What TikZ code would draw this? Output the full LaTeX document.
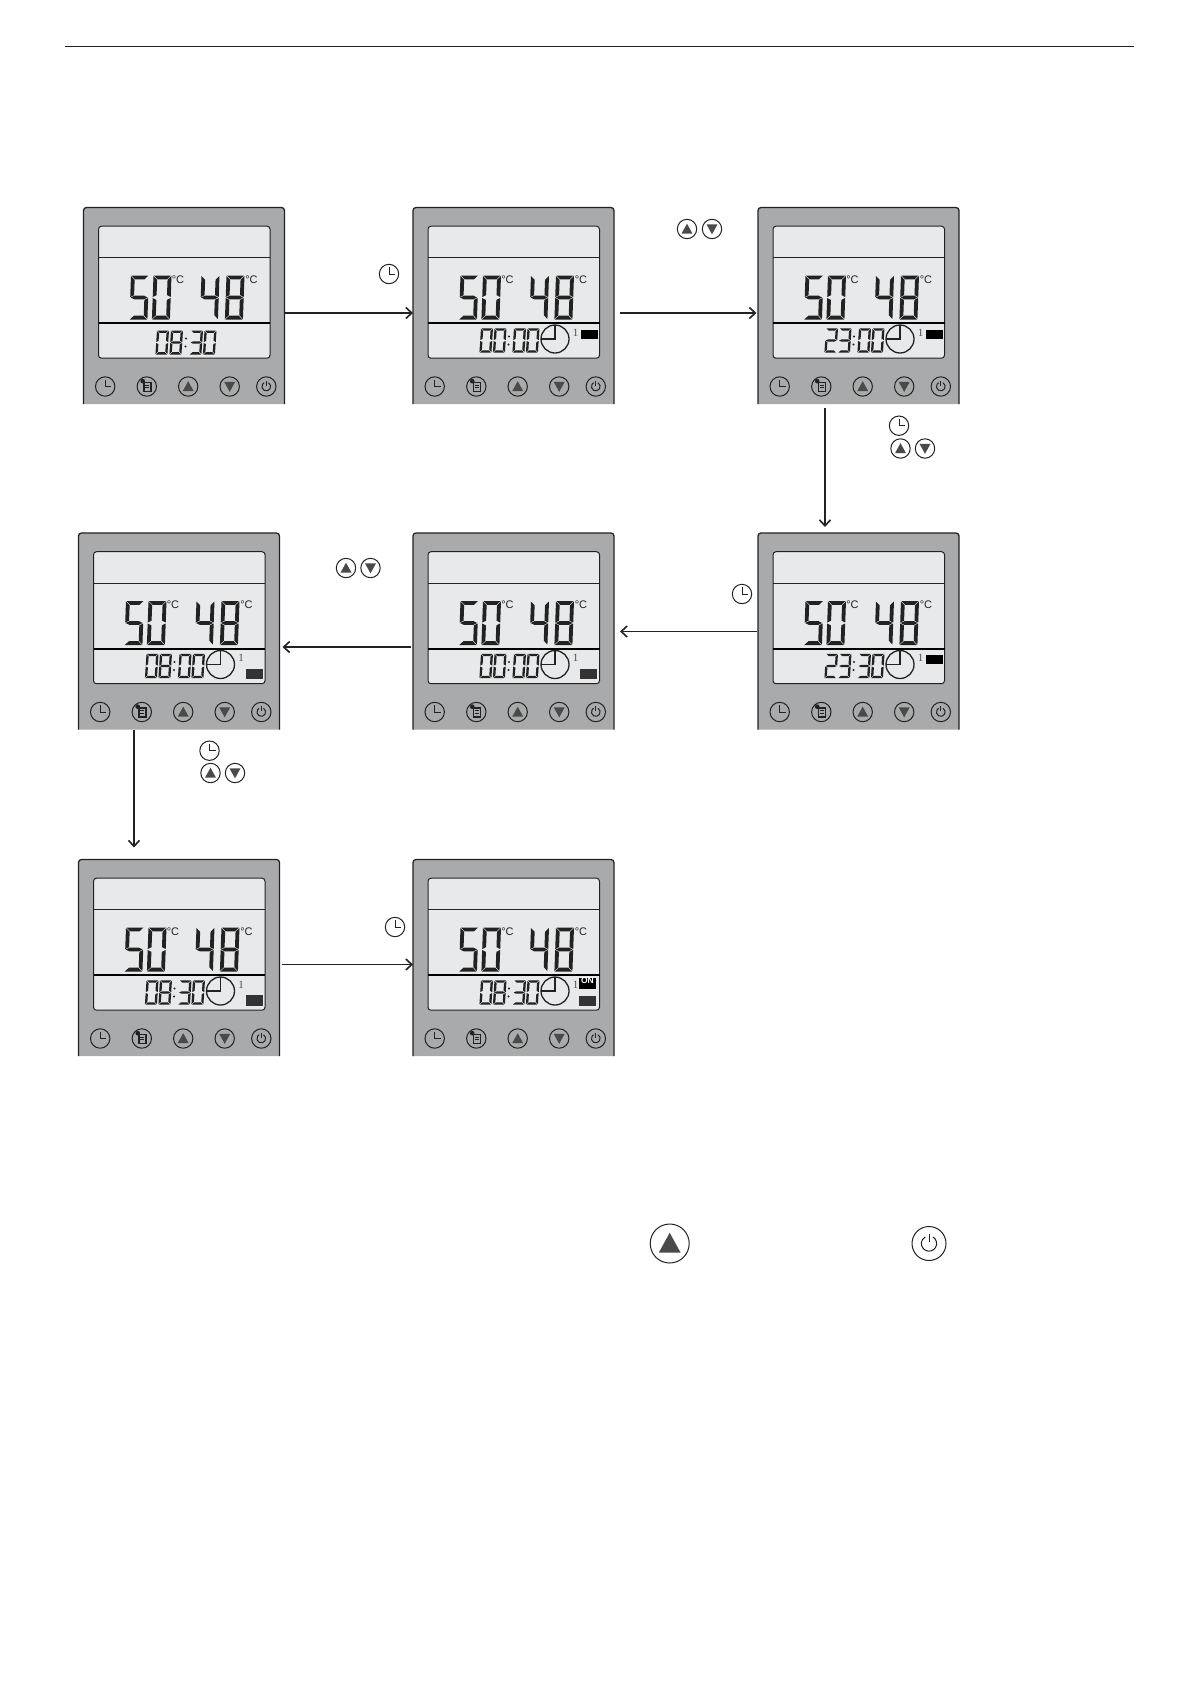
\documentclass[tikz,border=0pt]{standalone}
\usepackage{fontspec}
\setmainfont{Liberation Sans}
\newfontfamily\thinserif{Liberation Serif}
\usetikzlibrary{arrows.meta}
\definecolor{panelgrey}{HTML}{A9AAAC}
\definecolor{screengrey}{HTML}{E8E9EA}
\definecolor{inkdark}{HTML}{222222}
\definecolor{boxdark}{HTML}{333333}
\definecolor{iconfill}{HTML}{4A4A48}
\tikzset{
  panelnode/.style={rectangle,draw=none,inner sep=0pt,outer sep=0pt,minimum width=201pt,minimum height=196pt,anchor=north west},
  panelrim/.style={draw=inkdark,line width=1.3pt,rounded corners=3pt},
  screenrim/.style={draw=inkdark,line width=1pt,fill=screengrey,rounded corners=3pt},
  flow/.style={draw=inkdark,line width=1.6pt,-{Straight Barb[length=6pt,width=11pt,line width=1.6pt]}},
  iconline/.style={draw=inkdark,line width=1pt},
  unitlabel/.style={inner sep=0pt,font=\fontsize{11}{11}\selectfont,text=inkdark},
}
\newcommand\lsega{\fill[inkdark] (\gx,0) -- (1-\gx,0) -- (1-\gx-\tx,\ty) -- (\gx+\tx,\ty) -- cycle;}
\newcommand\lsegb{\fill[inkdark] (1,\gy) -- (1,.5-\gy) -- (1-\tx,.5-\gy-.5*\ty) -- (1-\tx,\gy+\ty) -- cycle;}
\newcommand\lsegc{\fill[inkdark] (1,.5+\gy) -- (1,1-\gy) -- (1-\tx,1-\gy-\ty) -- (1-\tx,.5+\gy+.5*\ty) -- cycle;}
\newcommand\lsegd{\fill[inkdark] (\gx,1) -- (1-\gx,1) -- (1-\gx-\tx,1-\ty) -- (\gx+\tx,1-\ty) -- cycle;}
\newcommand\lsege{\fill[inkdark] (0,.5+\gy) -- (0,1-\gy) -- (\tx,1-\gy-\ty) -- (\tx,.5+\gy+.5*\ty) -- cycle;}
\newcommand\lsegf{\fill[inkdark] (0,\gy) -- (0,.5-\gy) -- (\tx,.5-\gy-.5*\ty) -- (\tx,\gy+\ty) -- cycle;}
\newcommand\lsegg{\fill[inkdark] (\gx,.5) -- (\gx+\tx,.5-.5*\ty) -- (1-\gx-\tx,.5-.5*\ty) -- (1-\gx,.5) -- (1-\gx-\tx,.5+.5*\ty) -- (\gx+\tx,.5+.5*\ty) -- cycle;}
\expandafter\def\csname dgt0\endcsname{a,b,c,d,e,f}
\expandafter\def\csname dgt2\endcsname{a,b,g,e,d}
\expandafter\def\csname dgt3\endcsname{a,b,g,c,d}
\expandafter\def\csname dgt4\endcsname{f,g,b,c}
\expandafter\def\csname dgt5\endcsname{a,f,g,c,d}
\expandafter\def\csname dgt8\endcsname{a,b,c,d,e,f,g}
\newcommand\segdigit[6]{%
  \begin{scope}[shift={(#1,#2)},x={(#3pt,0pt)},y={(-1.6pt,-#4pt)}]
    \pgfmathsetmacro\tx{#5/#3}\pgfmathsetmacro\ty{#5/#4}
    \pgfmathsetmacro\gx{.5/#3}\pgfmathsetmacro\gy{.5/#4}
    \edef\seglist{\csname dgt#6\endcsname}
    \foreach \s in \seglist {\csname lseg\s\endcsname}
  \end{scope}}
\newcommand\iconring[3]{\draw[iconline] (#1,#2) circle[radius=#3];}
\newcommand\iconclock[3]{\iconring{#1}{#2}{#3}
  \begin{scope}[shift={(#1,#2)},x=#3pt,y=-#3pt]\draw[iconline] (0,-.72) -- (0,0) -- (.62,0);\end{scope}}
\newcommand\iconup[3]{\iconring{#1}{#2}{#3}
  \begin{scope}[shift={(#1,#2)},x=#3pt,y=-#3pt]\fill[iconfill] (0,-.55) -- (.56,.47) -- (-.56,.47) -- cycle;\end{scope}}
\newcommand\icondown[3]{\iconring{#1}{#2}{#3}
  \begin{scope}[shift={(#1,#2)},x=#3pt,y=-#3pt]\fill[iconfill] (0,.55) -- (.56,-.47) -- (-.56,-.47) -- cycle;\end{scope}}
\newcommand\iconmenu[3]{\iconring{#1}{#2}{#3}
  \begin{scope}[shift={(#1,#2)},x=#3pt,y=-#3pt]
    \draw[line width=1.5pt,draw=inkdark] (-.3,-.42) rectangle (.42,.5);
    \draw[line width=.9pt,draw=inkdark] (-.15,-.14) -- (.27,-.14) (-.15,.1) -- (.27,.1);
    \fill[inkdark] (-.42,-.55) circle[radius=.24];
  \end{scope}}
\newcommand\iconpower[3]{\iconring{#1}{#2}{#3}
  \begin{scope}[shift={(#1,#2)},x=#3pt,y=-#3pt]
    \draw[iconline] (300:.45) arc[start angle=300,end angle=600,radius=.45];
    \draw[iconline] (0,-.58) -- (0,-.08);
  \end{scope}}
\newcommand\lcdpanel[8]{%
  \node[panelnode] (#1) at (#2,#3) {};
  \begin{scope}[shift={(#2,#3)}]
    \fill[panelgrey] (0,196.5) -- (0,3) -- (3,0) -- (198,0) -- (201,3) -- (201,196.5) -- cycle;
    \draw[panelrim] (0,196.5) -- (0,0) -- (201,0) -- (201,196.5);
    \draw[screenrim] (15,18.7) rectangle (186.5,150.7);
    \draw[draw=inkdark,line width=.9pt] (15,50) -- (186.5,50);
    \draw[draw=black,line width=1.8pt] (15,115.7) -- (186.5,115.7);
    \segdigit{47.5}{68}{18}{44}{3.8}{5}
    \segdigit{70}{68}{18}{44}{3.8}{0}
    \segdigit{118}{68}{18}{44}{3.8}{4}
    \segdigit{143}{68}{18}{44}{3.8}{8}
    \node[unitlabel] (#1-ca) at (94.5,72) {°C};
    \node[unitlabel] (#1-cb) at (168,72) {°C};
    \ifnum#8=0
      \segdigit{73.5}{123}{12}{24}{2.3}{#4}
      \segdigit{87.5}{123}{12}{24}{2.3}{#5}
      \fill[inkdark] (102.5,131) circle[radius=1.2] (102,139) circle[radius=1.2];
      \segdigit{107.5}{123}{12}{24}{2.3}{#6}
      \segdigit{121}{123}{12}{24}{2.3}{#7}
    \else
      \segdigit{68}{120.8}{12}{24.4}{2.3}{#4}
      \segdigit{81.5}{120.8}{12}{24.4}{2.3}{#5}
      \fill[inkdark] (96,129) circle[radius=1.2] (95.5,137) circle[radius=1.2];
      \segdigit{101}{120.8}{12}{24.4}{2.3}{#6}
      \segdigit{114.5}{120.8}{12}{24.4}{2.3}{#7}
      \draw[draw=inkdark,line width=1.3pt] (142,131.5) circle[radius=14];
      \draw[draw=inkdark,line width=1.1pt] (142,117.5) -- (142,131.5) -- (128,131.5);
      \node[inner sep=0pt,font=\thinserif\fontsize{11}{11}\selectfont,text=inkdark!80] (#1-one) at (162.5,125) {1};
    \fi
    \ifnum#8=1 \fill[black] (168,122) rectangle (185,131); \fi
    \ifnum#8=2 \fill[boxdark] (167,135.5) rectangle (184,146); \fi
    \ifnum#8=3
      \fill[black] (166,118.5) rectangle (183,129.5);
      \node[inner sep=0pt,font=\bfseries\fontsize{8.5}{8.5}\selectfont,text=white] (#1-on) at (174.5,121.5) {ON};
      \fill[boxdark] (166,136.3) rectangle (183,146.3);
    \fi
    \iconclock{21.7}{179}{9.7}
    \iconmenu{63.3}{179}{9.7}
    \iconup{104.7}{179}{9.7}
    \icondown{146.2}{179}{9.7}
    \iconpower{182.8}{179}{9.7}
  \end{scope}}
\begin{document}
\begin{tikzpicture}[x=1pt,y=-1pt]
  \useasboundingbox (0,0) rectangle (1191,1684);
  \fill[white] (0,0) rectangle (1191,1684);
  \coordinate (ruleL) at (64.5,46.5);
  \coordinate (ruleR) at (1134,46.5);
  \draw[draw=inkdark,line width=.9pt] (ruleL) -- (ruleR);

  \lcdpanel{pa}{83.5}{207.5}{0}{8}{3}{0}{0}
  \lcdpanel{pb}{413}{207.5}{0}{0}{0}{0}{1}
  \lcdpanel{pc}{758}{207.5}{2}{3}{0}{0}{1}
  \lcdpanel{pd}{78.5}{533}{0}{8}{0}{0}{2}
  \lcdpanel{pe}{413}{533}{0}{0}{0}{0}{2}
  \lcdpanel{pf}{758}{533}{2}{3}{3}{0}{1}
  \lcdpanel{pg}{78.5}{859.5}{0}{8}{3}{0}{2}
  \lcdpanel{ph}{413}{859.5}{0}{8}{3}{0}{3}

  \draw[flow] ([yshift=-7.5pt]pa.east) -- ([yshift=-7.5pt]pb.west);
  \draw[flow] ([xshift=6pt,yshift=-7.5pt]pb.east) -- ([xshift=-1.5pt,yshift=-7.5pt]pc.west);
  \draw[flow] ([xshift=-33.5pt,yshift=-4pt]pc.south) -- ([xshift=-33.5pt,yshift=6pt]pf.north);
  \draw[flow] ([xshift=-1.5pt,yshift=-.5pt]pf.west) -- ([xshift=6pt,yshift=-.5pt]pe.east);
  \draw[flow] ([xshift=-2pt,yshift=-16pt]pe.west) -- ([xshift=3pt,yshift=-16pt]pd.east);
  \draw[flow] ([xshift=-45pt,yshift=-1pt]pd.south) -- ([xshift=-45pt,yshift=12pt]pg.north);
  \draw[flow] ([xshift=2pt,yshift=-7pt]pg.east) -- ([yshift=-7pt]ph.west);

  \iconclock{389}{274}{9.7}
  \iconup{687}{229}{9.7}
  \icondown{712}{229}{9.7}
  \iconclock{899}{425.7}{9.7}
  \iconup{900.5}{448.5}{9.7}
  \icondown{925}{448.5}{9.7}
  \iconup{346}{568}{9.7}
  \icondown{370.5}{568}{9.7}
  \iconclock{742}{594}{9.7}
  \iconclock{209.5}{750.7}{9.7}
  \iconup{210.5}{773}{9.7}
  \icondown{235}{773}{9.7}
  \iconclock{395}{927}{9.7}
  \iconup{669.7}{1243.5}{19.5}
  \iconpower{929}{1243.5}{17}
\end{tikzpicture}
\end{document}
